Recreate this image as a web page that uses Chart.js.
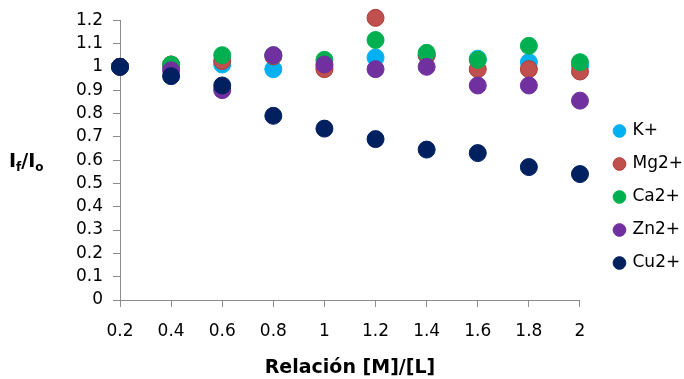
<!DOCTYPE html>
<html>
<head>
<meta charset="utf-8">
<script src="https://cdn.jsdelivr.net/npm/chart.js@4/dist/chart.umd.min.js"></script>
<style>
  html, body { margin: 0; padding: 0; background: #fff; }
  #wrap { position: relative; width: 684px; height: 379px; }
  #ylab {
    position: absolute; left: 9px; top: 149px; line-height: 19px;
    font: bold 19px "DejaVu Sans", sans-serif; color: #000;
  }
  #ylab sub { font-size: 12px; line-height: 0; vertical-align: -4px; }
</style>
</head>
<body>
<div id="wrap">
  <canvas id="chart" width="684" height="379"></canvas>
  <div id="ylab">I<sub>f</sub>/I<sub>o</sub></div>
</div>
<script>
// ratio [M]/[L]
const ratios = [0.2, 0.4, 0.6, 0.8, 1.0, 1.2, 1.4, 1.6, 1.8, 2.0];

// If/Io per metal ion
const kVals  = [1.00, 1.00, 1.01, 0.99, 1.00, 1.04, 1.05, 1.035, 1.02, 1.005];
const mgVals = [1.00, 1.01, 1.025, 1.045, 0.99, 1.21, 1.05, 0.99, 0.99, 0.98];
const caVals = [1.00, 1.01, 1.05, 1.05, 1.03, 1.115, 1.06, 1.03, 1.09, 1.02];
const znVals = [1.00, 0.985, 0.90, 1.05, 1.01, 0.99, 1.00, 0.92, 0.92, 0.855];
const cuVals = [1.00, 0.96, 0.92, 0.79, 0.735, 0.69, 0.645, 0.63, 0.57, 0.54];

const seriesNames = ['K+', 'Mg2+', 'Ca2+', 'Zn2+', 'Cu2+'];
const seriesVals = [kVals, mgVals, caVals, znVals, cuVals];
const fills   = ['#00B0F0', '#C0504D', '#00B050', '#7030A0', '#002060'];
const borders = ['#00B0F0', '#B03A37', '#00B050', '#7030A0', '#002060'];

const font = '"DejaVu Sans", sans-serif';

const datasets = seriesNames.map((name, i) => ({
    label: name,
    data: ratios.map((x, j) => ({ x: x, y: seriesVals[i][j] })),
    backgroundColor: fills[i],
    borderColor: borders[i],
    borderWidth: 1,
    pointRadius: 8.5,
    pointHoverRadius: 8.5,
    order: seriesNames.length - i, // later series drawn on top
    clip: false
}));

// nudge the legend to where the original sits
const legendShift = {
    id: 'legendShift',
    afterLayout(chart) {
        const lg = chart.legend;
        if (!lg) return;
        lg.left += 19; lg.right += 19;
        lg.top += 2; lg.bottom += 2;
    }
};

new Chart(document.getElementById('chart'), {
    type: 'scatter',
    data: { datasets },
    plugins: [legendShift],
    options: {
        responsive: false,
        animation: false,
        layout: { padding: { left: 50, top: 11, right: 10, bottom: 0 } },
        plugins: {
            legend: {
                position: 'right',
                labels: {
                    usePointStyle: true,
                    pointStyle: 'circle',
                    boxWidth: 9,
                    boxHeight: 9,
                    padding: 16,
                    color: '#000',
                    font: { family: font, size: 17 },
                    sort: (a, b) => a.datasetIndex - b.datasetIndex
                }
            },
            tooltip: { enabled: false }
        },
        scales: {
            x: {
                type: 'linear',
                min: 0.2,
                max: 2,
                afterFit: s => { s.height = 79; },
                ticks: {
                    stepSize: 0.2,
                    autoSkip: false,
                    maxRotation: 0,
                    minRotation: 0,
                    padding: 14,
                    color: '#000',
                    font: { family: font, size: 17 },
                    callback: v => String(+v.toFixed(1))
                },
                grid: { drawOnChartArea: false, tickLength: 7, color: '#8C8C8C' },
                border: { color: '#8C8C8C' },
                title: {
                    display: true,
                    text: 'Relación [M]/[L]',
                    color: '#000',
                    font: { family: font, size: 19, weight: 'bold' },
                    padding: { top: 4, bottom: 0 }
                }
            },
            y: {
                min: 0,
                max: 1.2,
                afterFit: s => { s.width = 70; },
                ticks: {
                    stepSize: 0.1,
                    autoSkip: false,
                    padding: 10,
                    color: '#000',
                    font: { family: font, size: 17 },
                    callback: v => String(+v.toFixed(1))
                },
                grid: { drawOnChartArea: false, tickLength: 7, color: '#8C8C8C' },
                border: { color: '#8C8C8C' }
            }
        }
    }
});
</script>
</body>
</html>
